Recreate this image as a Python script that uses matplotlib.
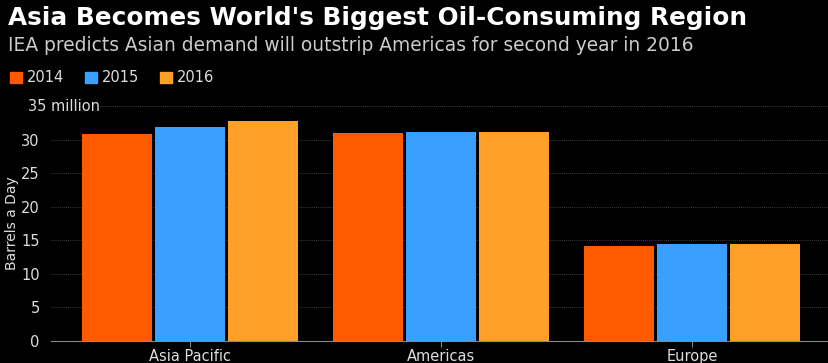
import matplotlib
matplotlib.use("Agg")
import matplotlib.pyplot as plt
import numpy as np

regions = ["Asia Pacific", "Americas", "Europe"]
years = ["2014", "2015", "2016"]
demand_2014 = [30.9, 31.0, 14.1]
demand_2015 = [31.9, 31.2, 14.4]
demand_2016 = [32.8, 31.2, 14.4]
colors = ["#ff5a00", "#3aa0ff", "#ffa028"]
yticks = [0, 5, 10, 15, 20, 25, 30, 35]
ytick_labels = ["0", "5", "10", "15", "20", "25", "30", ""]

fig = plt.figure(figsize=(8.29, 3.63), dpi=100, facecolor="black")
ax = fig.add_axes([0.0615, 0.0606, 0.9385, 0.647], facecolor="black")

x = np.arange(len(regions))
w = 0.28
for i, (vals, c) in enumerate(zip([demand_2014, demand_2015, demand_2016], colors)):
    ax.bar(x + (i - 1) * 0.29, vals, width=w, color=c, zorder=3)

ax.set_xlim(-0.554, 2.546)
ax.set_ylim(0, 35)
ax.set_xticks(x)
ax.set_xticklabels(regions, color="#dddddd", fontsize=10.5)
ax.set_yticks(yticks)
ax.set_yticklabels(ytick_labels, color="#dddddd", fontsize=10.5)
ax.tick_params(axis="y", length=0, pad=8)
ax.tick_params(axis="x", length=4, color="#888888", pad=2)

# dotted grid; the top one starts after the "35 million" label
for t in yticks[1:]:
    xmin = 0.063 if t == 35 else 0.0
    ax.axhline(t, xmin=xmin, color="#555555", linestyle=(0, (1, 1.5)), linewidth=0.6, zorder=0)
ax.text(-0.0295, 35, "35 million", transform=ax.get_yaxis_transform(),
        color="#dddddd", fontsize=10.5, ha="left", va="center")

for s in ["top", "right", "left"]:
    ax.spines[s].set_visible(False)
ax.spines["bottom"].set_color("#888888")
ax.set_ylabel("Barrels a Day", color="#dddddd", fontsize=10)
ax.yaxis.set_label_coords(-0.041, 0.5)

fig.text(0.010, 0.950, "Asia Becomes World's Biggest Oil-Consuming Region",
         color="white", fontsize=17.8, fontweight="bold", va="center", ha="left")
fig.text(0.010, 0.876, "IEA predicts Asian demand will outstrip Americas for second year in 2016",
         color="#cccccc", fontsize=13.4, va="center", ha="left")

lx = [0.012, 0.103, 0.193]
for xx, yr, c in zip(lx, years, colors):
    fig.patches.append(plt.Rectangle((xx, 0.770), 0.0145, 0.033, transform=fig.transFigure,
                                     color=c, figure=fig))
    fig.text(xx + 0.020, 0.786, yr, color="#dddddd", fontsize=10.5, va="center", ha="left")

fig.savefig("out.png", dpi=100, facecolor="black")
